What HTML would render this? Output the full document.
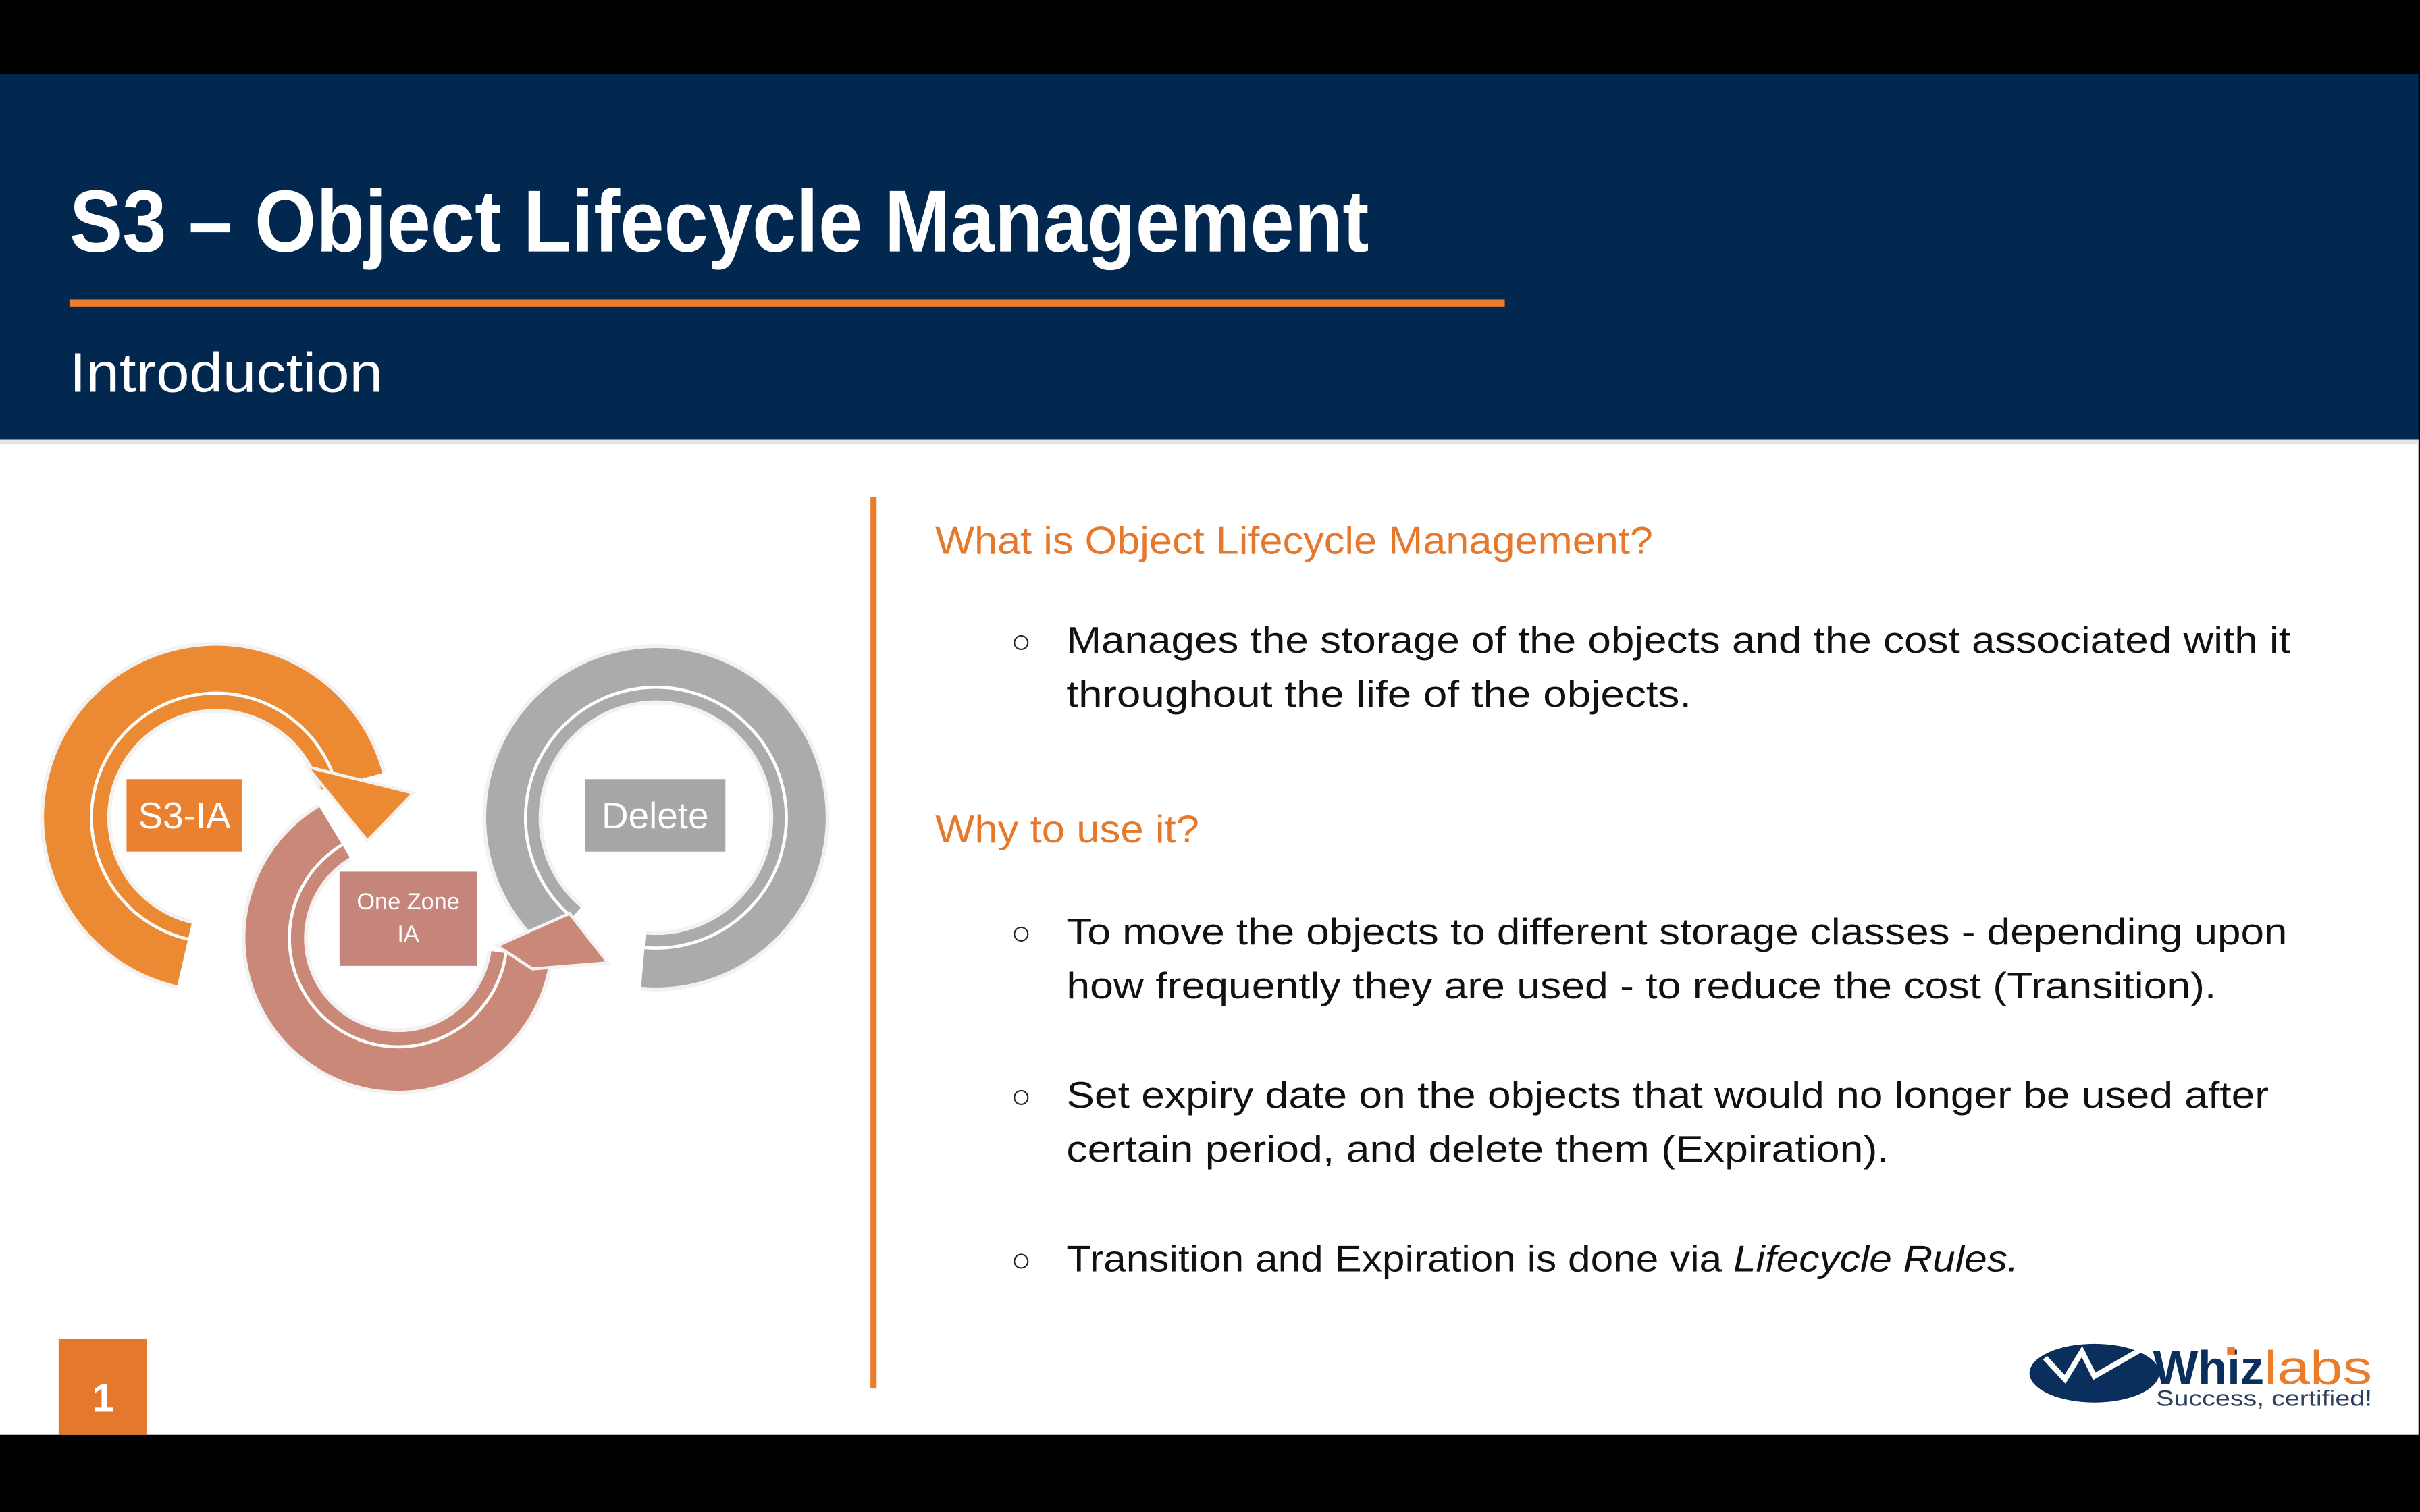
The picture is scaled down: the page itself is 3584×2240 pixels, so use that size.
<!DOCTYPE html>
<html><head><meta charset="utf-8">
<style>
html,body{margin:0;padding:0;background:#000;}
svg{display:block;}
text{font-family:"Liberation Sans",sans-serif;}
</style></head>
<body>
<svg id="s" width="3584" height="2240" viewBox="0 0 1568 980" xmlns="http://www.w3.org/2000/svg">
  <rect x="0" y="0" width="1568" height="980" fill="#000"/>
  <rect x="0" y="285" width="1567" height="645" fill="#fff"/>
  <rect x="0" y="285" width="1567" height="3" fill="#e4e4e4"/>
  <rect x="0" y="48" width="1567" height="237" fill="#03284f"/>
  <text x="45" y="163" font-size="57" font-weight="bold" fill="#fff" textLength="842" lengthAdjust="spacingAndGlyphs">S3 – Object Lifecycle Management</text>
  <rect x="45" y="194" width="930" height="5" fill="#ea7d2c"/>
  <text x="45" y="254" font-size="36" fill="#fff" textLength="203" lengthAdjust="spacingAndGlyphs">Introduction</text>

  <rect x="564" y="322" width="4" height="578" fill="#ea7d2c"/>

  <g id="diagram"></g>

  <text x="606" y="359" font-size="25" fill="#e6782c" textLength="465" lengthAdjust="spacingAndGlyphs">What is Object Lifecycle Management?</text>
  <text x="655" y="423" font-size="22" fill="#222">○</text>
  <text x="691" y="423" font-size="24" fill="#111" textLength="793" lengthAdjust="spacingAndGlyphs">Manages the storage of the objects and the cost associated with it</text>
  <text x="691" y="458" font-size="24" fill="#111" textLength="405" lengthAdjust="spacingAndGlyphs">throughout the life of the objects.</text>

  <text x="606" y="546" font-size="25" fill="#e6782c" textLength="171" lengthAdjust="spacingAndGlyphs">Why to use it?</text>
  <text x="655" y="612" font-size="22" fill="#222">○</text>
  <text x="691" y="612" font-size="24" fill="#111" textLength="791" lengthAdjust="spacingAndGlyphs">To move the objects to different storage classes - depending upon</text>
  <text x="691" y="647" font-size="24" fill="#111" textLength="745" lengthAdjust="spacingAndGlyphs">how frequently they are used - to reduce the cost (Transition).</text>
  <text x="655" y="718" font-size="22" fill="#222">○</text>
  <text x="691" y="718" font-size="24" fill="#111" textLength="779" lengthAdjust="spacingAndGlyphs">Set expiry date on the objects that would no longer be used after</text>
  <text x="691" y="753" font-size="24" fill="#111" textLength="533" lengthAdjust="spacingAndGlyphs">certain period, and delete them (Expiration).</text>
  <text x="655" y="824" font-size="22" fill="#222">○</text>
  <text x="691" y="824" font-size="24" fill="#111" textLength="617" lengthAdjust="spacingAndGlyphs">Transition and Expiration is done via <tspan font-style="italic">Lifecycle Rules.</tspan></text>

  <rect x="38" y="868" width="57" height="62" fill="#e5782c"/>
  <text x="67" y="915" font-size="26" font-weight="bold" fill="#fff" text-anchor="middle">1</text>

  <g>
    <ellipse cx="1357" cy="890" rx="42" ry="19" fill="#0a2f5c"/>
    <polyline points="1325,880 1338,894 1349,876 1357,892 1392,872" fill="none" stroke="#fff" stroke-width="3.5"/>
    <text x="1395" y="897" font-size="31" font-weight="bold" fill="#0a2f5c" textLength="72" lengthAdjust="spacingAndGlyphs">Whiz</text>
    <rect x="1443" y="873" width="5" height="5" fill="#ea7d2c"/>
    <text x="1467" y="897" font-size="31" fill="#ea7d2c" textLength="70" lengthAdjust="spacingAndGlyphs">labs</text>
    <text x="1397" y="911" font-size="14" fill="#2b3f5f" textLength="140" lengthAdjust="spacingAndGlyphs">Success, certified!</text>
  </g>
</svg>
<script>
const NS='http://www.w3.org/2000/svg';
const g=document.getElementById('diagram');
function pt(cx,cy,r,a){const t=a*Math.PI/180;return [cx+r*Math.cos(t),cy+r*Math.sin(t)];}
function arcPath(cx,cy,r,a1,a2){
  const p1=pt(cx,cy,r,a1),p2=pt(cx,cy,r,a2);
  const large=Math.abs(a2-a1)>180?1:0;const sweep=a2>a1?1:0;
  return `M${p1[0]},${p1[1]} A${r},${r} 0 ${large} ${sweep} ${p2[0]},${p2[1]}`;
}
function ring(name,cx,cy,r,w,a1,a2,color,head){
  const grp=document.createElementNS(NS,'g');
  
  
  const o=document.createElementNS(NS,'path');
  o.setAttribute('d',arcPath(cx,cy,r,a1,a2));o.setAttribute('fill','none');
  o.setAttribute('stroke','#f2f2f2');o.setAttribute('stroke-width',w+5);
  
  
  grp.appendChild(o);
  const p=document.createElementNS(NS,'path');
  p.setAttribute('d',arcPath(cx,cy,r,a1,a2));p.setAttribute('fill','none');
  p.setAttribute('stroke',color);p.setAttribute('stroke-width',w);
  
  
  grp.appendChild(p);
  const l=document.createElementNS(NS,'path');
  l.setAttribute('d',arcPath(cx,cy,r-w*0.25,a1,a2));l.setAttribute('fill','none');
  l.setAttribute('stroke','#fff');l.setAttribute('stroke-width',2);
  
  
  grp.appendChild(l);
  if(head){
    const h=document.createElementNS(NS,'polygon');
    h.setAttribute('points',head);h.setAttribute('fill',color);
    h.setAttribute('stroke','#f2f2f2');h.setAttribute('stroke-width',2);
    
    
    grp.appendChild(h);
  }
  g.appendChild(grp);
}
ring('delete-ring',425,530,93,34,130,455,'#ababab',null);
ring('one-zone-ring',258,608,80,38,239,8,'#c98878','322,613 369,592 394,624 345,628');
ring('s3-ia-ring',140,530,91,41,103,345,'#ec8a34','199,497 268,514 238,545');

function box(name,x,y,w,h,color,lines,fs){
  const r=document.createElementNS(NS,'rect');
  r.setAttribute('x',x);r.setAttribute('y',y);r.setAttribute('width',w);r.setAttribute('height',h);
  r.setAttribute('fill',color);
  
  
  g.appendChild(r);
  lines.forEach((s,i)=>{
    const t=document.createElementNS(NS,'text');
    t.setAttribute('x',x+w/2);t.setAttribute('y',lines.length===1?y+h/2+fs*0.35:y+h/2-4+i*(fs+6)-(fs*0.15));
    t.setAttribute('font-size',fs);t.setAttribute('fill','#fff');t.setAttribute('text-anchor','middle');
    t.textContent=s;
    
    
    g.appendChild(t);
  });
}
box('s3-ia',82,505,75,47,'#ea8131',['S3-IA'],24);
box('delete',379,505,91,47,'#a6a6a6',['Delete'],24);
box('one-zone-ia',220,565,89,61,'#c5857a',['One Zone','IA'],15);
</script>
</body></html>
